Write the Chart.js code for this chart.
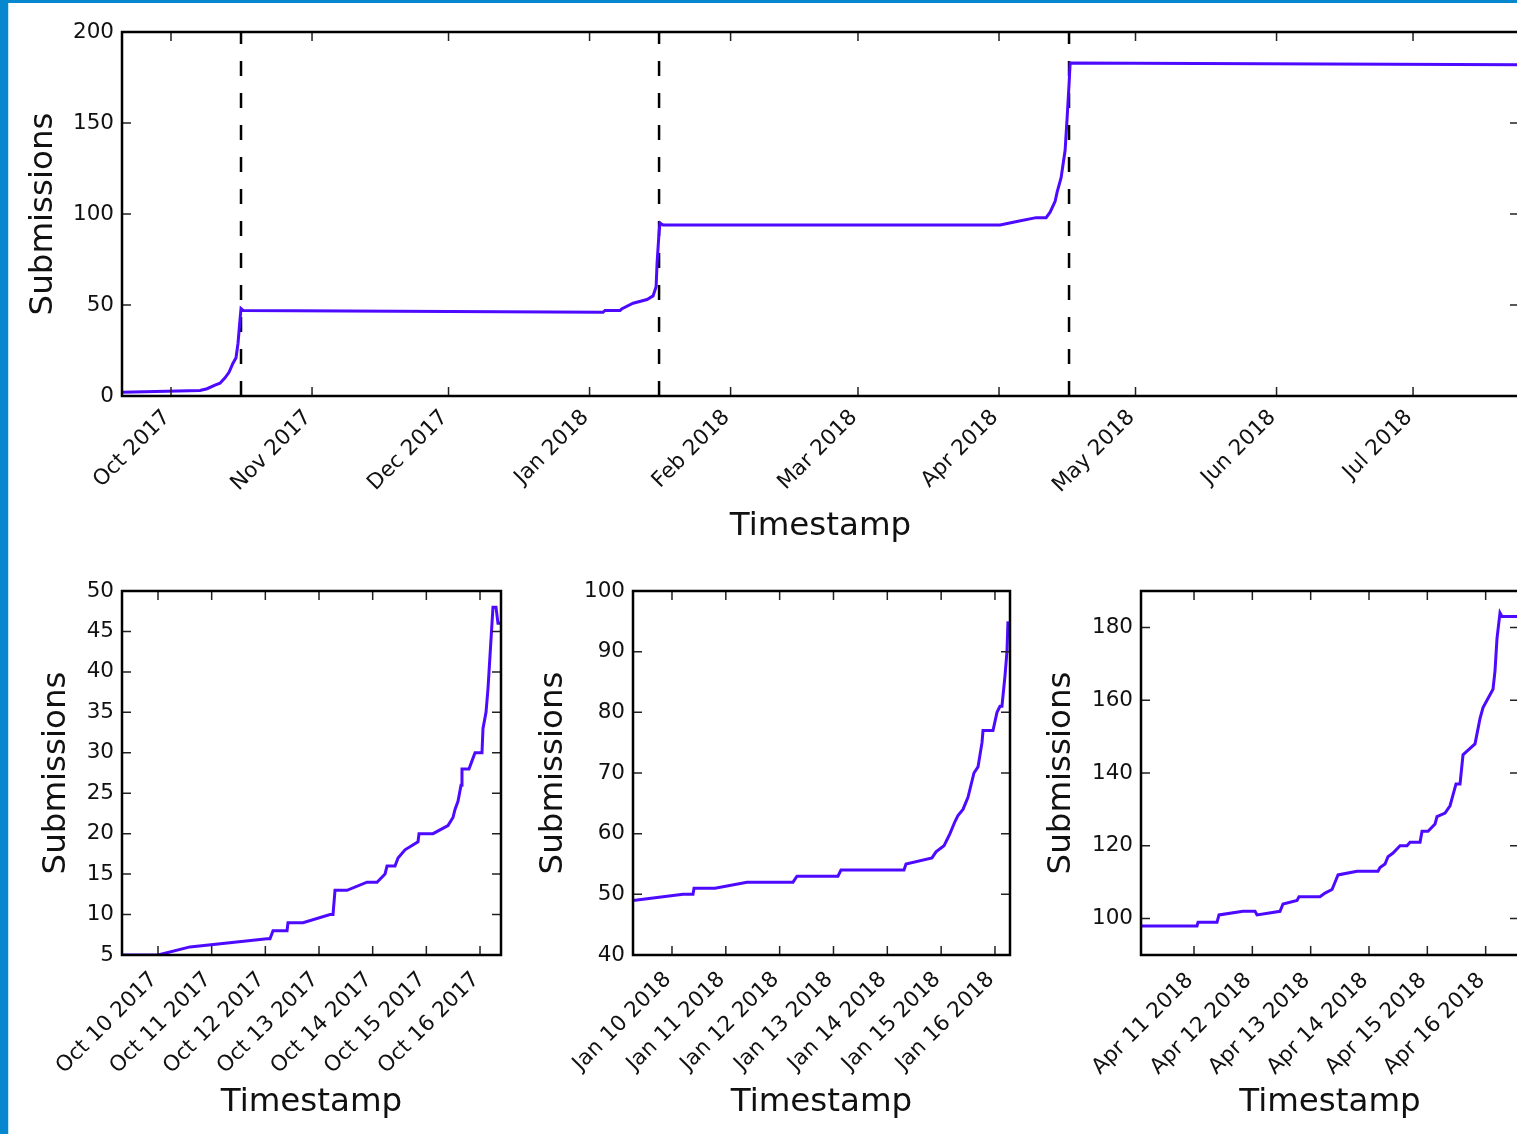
<!DOCTYPE html>
<html>
<head>
<meta charset="utf-8">
<script src="https://cdn.jsdelivr.net/npm/chart.js@4.4.0/dist/chart.umd.min.js"></script>
<style>
html, body { margin: 0; overflow: hidden; background: #fff; }
body { position: relative; width: 1517px; height: 1134px; }
canvas { position: absolute; }
#edgeLeft { position: absolute; left: 0; top: 0; width: 8px; height: 1134px; background: #0787cd; border-right: 1px solid #bfe3f7; z-index: 5; }
#edgeTop { position: absolute; left: 0; top: 0; width: 1517px; height: 3px; background: #0787cd; z-index: 5; }
</style>
</head>
<body>
<div id="edgeLeft"></div>
<div id="edgeTop"></div>
<canvas id="overview" width="1545" height="560" style="left:0;top:0"></canvas>
<canvas id="octChart" width="520" height="574" style="left:0;top:560px"></canvas>
<canvas id="janChart" width="500" height="574" style="left:520px;top:560px"></canvas>
<canvas id="aprChart" width="525" height="574" style="left:1020px;top:560px"></canvas>
<script>
// whole period
const overviewTimes = ['2017-09-20 05:30','2017-10-07 09:00','2017-10-08 22:00','2017-10-10 16:00','2017-10-11 18:30',
  '2017-10-12 21:00','2017-10-13 18:00','2017-10-14 15:00','2017-10-15 07:00','2017-10-15 17:30','2017-10-16 04:00',
  '2017-10-16 09:20','2017-10-16 20:00','2018-01-03 23:00','2018-01-04 09:40','2018-01-07 17:00','2018-01-08 03:20',
  '2018-01-10 13:30','2018-01-13 15:20','2018-01-14 23:00','2018-01-15 15:00','2018-01-15 20:10','2018-01-16 06:40',
  '2018-01-16 12:00','2018-01-17 03:50','2018-04-01 05:45','2018-04-05 04:30','2018-04-09 03:40','2018-04-11 08:25',
  '2018-04-12 05:30','2018-04-13 08:00','2018-04-13 18:30','2018-04-14 15:30','2018-04-15 12:40','2018-04-15 23:20',
  '2018-04-16 09:50','2018-04-16 15:10','2018-07-24 07:00']
const overviewCounts = [2,3,4,6,7,10,13,18,21,29,42,48,47,46,47,47,48,51,53,55,60,73,90,95,94,94,96,98,98,101,107,112,120,135,153,172,183,182]
const deadlines = ['2017-10-16 09:20','2018-01-16 06:40','2018-04-16 09:20']
const overviewRange = ['2017-09-20 05:30','2018-07-24 07:00']
const overviewTicks = ['2017-10-01','2017-11-01','2017-12-01','2018-01-01','2018-02-01','2018-03-01','2018-04-01','2018-05-01','2018-06-01','2018-07-01']
const overviewY = [0,50,100,150,200]

// week before the October deadline
const octTimes = ['2017-10-09 07:54','2017-10-10 00:00','2017-10-10 14:18','2017-10-12 00:45','2017-10-12 02:05','2017-10-12 03:26',
  '2017-10-12 09:42','2017-10-12 10:08','2017-10-12 16:51','2017-10-13 04:55','2017-10-13 06:16','2017-10-13 07:09',
  '2017-10-13 12:31','2017-10-13 21:27','2017-10-14 01:56','2017-10-14 05:31','2017-10-14 06:25','2017-10-14 09:59',
  '2017-10-14 11:20','2017-10-14 14:27','2017-10-14 20:16','2017-10-14 20:43','2017-10-15 02:58','2017-10-15 09:40',
  '2017-10-15 11:55','2017-10-15 12:49','2017-10-15 14:09','2017-10-15 15:30','2017-10-15 15:56','2017-10-15 19:04',
  '2017-10-15 20:25','2017-10-15 21:46','2017-10-16 00:53','2017-10-16 01:20','2017-10-16 02:41','2017-10-16 03:35',
  '2017-10-16 04:28','2017-10-16 05:48','2017-10-16 07:09','2017-10-16 08:02','2017-10-16 09:23']
const octCounts = [5,5,6,7,7,8,8,9,9,10,10,13,13,14,14,15,16,16,17,18,19,20,20,21,22,23,24,26,28,28,29,30,30,33,35,38,42,48,48,46,46]
const octRange = ['2017-10-09 07:54','2017-10-16 09:23']
const octTicks = ['2017-10-10','2017-10-11','2017-10-12','2017-10-13','2017-10-14','2017-10-15','2017-10-16']
const octY = [5,10,15,20,25,30,35,40,45,50]

// week before the January deadline
const janTimes = ['2018-01-09 06:37','2018-01-10 04:54','2018-01-10 09:22','2018-01-10 09:49','2018-01-10 19:10','2018-01-11 09:26',
  '2018-01-12 05:57','2018-01-12 07:44','2018-01-13 02:00','2018-01-13 03:20','2018-01-14 07:26','2018-01-14 08:20',
  '2018-01-14 19:55','2018-01-14 21:42','2018-01-15 01:16','2018-01-15 02:36','2018-01-15 03:56','2018-01-15 06:10',
  '2018-01-15 07:30','2018-01-15 09:44','2018-01-15 11:58','2018-01-15 14:38','2018-01-15 16:26','2018-01-15 18:13',
  '2018-01-15 18:40','2018-01-15 23:07','2018-01-16 00:54','2018-01-16 02:14','2018-01-16 03:07','2018-01-16 04:28',
  '2018-01-16 05:21','2018-01-16 05:48']
const janCounts = [49,50,50,51,51,52,52,53,53,54,54,55,56,57,58,59,60,62,63,64,66,70,71,75,77,77,80,81,81,86,90,95]
const janRange = ['2018-01-09 06:37','2018-01-16 06:42']
const janTicks = ['2018-01-10','2018-01-11','2018-01-12','2018-01-13','2018-01-14','2018-01-15','2018-01-16']
const janY = [40,50,60,70,80,90,100]

// week before the April deadline
const aprTimes = ['2018-04-10 02:11','2018-04-11 01:14','2018-04-11 01:39','2018-04-11 09:28','2018-04-11 10:17','2018-04-11 20:10',
  '2018-04-12 01:06','2018-04-12 01:55','2018-04-12 11:23','2018-04-12 12:37','2018-04-12 18:23','2018-04-12 19:12',
  '2018-04-13 03:50','2018-04-13 05:54','2018-04-13 08:47','2018-04-13 10:01','2018-04-13 11:15','2018-04-13 19:04',
  '2018-04-14 03:42','2018-04-14 04:32','2018-04-14 06:35','2018-04-14 07:49','2018-04-14 09:53','2018-04-14 12:46',
  '2018-04-14 15:39','2018-04-14 16:53','2018-04-14 21:00','2018-04-14 21:49','2018-04-15 00:17','2018-04-15 03:10',
  '2018-04-15 03:59','2018-04-15 07:17','2018-04-15 09:20','2018-04-15 10:34','2018-04-15 11:48','2018-04-15 13:27',
  '2018-04-15 14:41','2018-04-15 16:19','2018-04-15 19:37','2018-04-15 21:41','2018-04-15 22:55','2018-04-16 00:33',
  '2018-04-16 03:01','2018-04-16 03:50','2018-04-16 04:40','2018-04-16 05:54','2018-04-16 06:43','2018-04-16 13:43']
const aprCounts = [98,98,99,99,101,102,102,101,102,104,105,106,106,107,108,110,112,113,113,114,115,117,118,120,120,121,121,124,
  124,126,128,129,131,134,137,137,145,146,148,155,158,160,163,168,177,184,183,183]
const aprRange = ['2018-04-10 02:11','2018-04-16 13:43']
const aprTicks = ['2018-04-11','2018-04-12','2018-04-13','2018-04-14','2018-04-15','2018-04-16']
const aprY = [100,120,140,160,180]

const months = ['Jan','Feb','Mar','Apr','May','Jun','Jul','Aug','Sep','Oct','Nov','Dec']
const font = 'DejaVu Sans'
const lineColor = '#4d0aff'
const textColor = '#111'

function toMs(s) {
  let [d, hm] = s.split(' ')
  let [Y, M, D] = d.split('-').map(Number)
  let [h, m] = (hm || '00:00').split(':').map(Number)
  return Date.UTC(Y, M - 1, D, h, m)
}

function monthLabel(v) {
  let d = new Date(v)
  return months[d.getUTCMonth()] + ' ' + d.getUTCFullYear()
}

function dayLabel(v) {
  let d = new Date(v)
  return months[d.getUTCMonth()] + ' ' + d.getUTCDate() + ' ' + d.getUTCFullYear()
}

// box, inward ticks on all four sides, dashed deadline lines
const frameTicks = {
  id: 'frameTicks',
  beforeDatasetsDraw(chart, args, opts) {
    const {ctx, chartArea: a, scales: {x}} = chart
    ctx.save()
    ctx.beginPath()
    ctx.rect(a.left, a.top, a.right - a.left, a.bottom - a.top)
    ctx.clip()
    ctx.strokeStyle = '#000'
    ctx.lineWidth = 2.5
    ctx.setLineDash([15, 17])
    ;(opts.deadlines || []).forEach(d => {
      let px = x.getPixelForValue(toMs(d))
      ctx.beginPath()
      ctx.moveTo(px, a.bottom)
      ctx.lineTo(px, a.top)
      ctx.stroke()
    })
    ctx.restore()
  },
  afterDraw(chart) {
    const {ctx, chartArea: a, scales: {x, y}} = chart
    const len = 9
    ctx.save()
    ctx.strokeStyle = '#222'
    ctx.lineWidth = 1.5
    ctx.beginPath()
    x.ticks.forEach(t => {
      let px = x.getPixelForValue(t.value)
      ctx.moveTo(px, a.bottom); ctx.lineTo(px, a.bottom - len)
      ctx.moveTo(px, a.top); ctx.lineTo(px, a.top + len)
    })
    y.ticks.forEach(t => {
      let py = y.getPixelForValue(t.value)
      ctx.moveTo(a.left, py); ctx.lineTo(a.left + len, py)
      ctx.moveTo(a.right, py); ctx.lineTo(a.right - len, py)
    })
    ctx.stroke()
    ctx.strokeStyle = '#000'
    ctx.lineWidth = 2.5
    ctx.strokeRect(a.left, a.top, a.right - a.left, a.bottom - a.top)
    ctx.restore()
  }
}

function makeChart(id, times, counts, xRange, xTicks, label, yRange, yTicks, g) {
  return new Chart(document.getElementById(id), {
    type: 'line',
    data: {
      datasets: [{
        data: times.map((t, i) => ({x: toMs(t), y: counts[i]})),
        borderColor: lineColor,
        borderWidth: 3,
        pointRadius: 0,
        tension: 0,
        fill: false
      }]
    },
    options: {
      responsive: false,
      animation: false,
      events: [],
      layout: {padding: {left: 0, top: g.top, right: g.right, bottom: 0}},
      plugins: {
        legend: {display: false},
        tooltip: {enabled: false},
        frameTicks: {deadlines: g.deadlines || []}
      },
      scales: {
        x: {
          type: 'linear',
          min: toMs(xRange[0]),
          max: toMs(xRange[1]),
          grid: {display: false, drawTicks: false},
          border: {display: false},
          afterBuildTicks: s => { s.ticks = xTicks.map(t => ({value: toMs(t)})) },
          afterFit: s => {
            s.height = g.xHeight
            s.paddingLeft = 0
            s.paddingRight = 0
          },
          ticks: {
            autoSkip: false, minRotation: 45, maxRotation: 45, padding: g.xPad, labelOffset: -4,
            color: textColor, font: {family: font, size: 21.5},
            callback: v => label(v)
          },
          title: {display: true, text: 'Timestamp', color: textColor, font: {family: font, size: 32.5}, padding: {top: 0, bottom: g.xTitle}}
        },
        y: {
          min: yRange[0],
          max: yRange[1],
          grid: {display: false, drawTicks: false},
          border: {display: false},
          afterBuildTicks: s => { s.ticks = yTicks.map(v => ({value: v})) },
          afterFit: s => { s.width = g.yWidth },
          ticks: {padding: 8, color: textColor, font: {family: font, size: 21.5}, callback: v => String(v)},
          title: {display: true, text: 'Submissions', color: textColor, font: {family: font, size: 32.5}, padding: {top: g.yTitle, bottom: 0}}
        }
      }
    },
    plugins: [frameTicks]
  })
}

makeChart('overview', overviewTimes, overviewCounts, overviewRange, overviewTicks, monthLabel, [0, 200], overviewY,
  {top: 32, right: 26, xHeight: 164, yWidth: 122, xPad: 9, xTitle: 14, yTitle: 24, deadlines: deadlines})
makeChart('octChart', octTimes, octCounts, octRange, octTicks, dayLabel, [5, 50], octY,
  {top: 31, right: 19, xHeight: 179, yWidth: 122, xPad: 12, xTitle: 12, yTitle: 37})
makeChart('janChart', janTimes, janCounts, janRange, janTicks, dayLabel, [40, 100], janY,
  {top: 31, right: 10, xHeight: 179, yWidth: 113, xPad: 12, xTitle: 12, yTitle: 14})
makeChart('aprChart', aprTimes, aprCounts, aprRange, aprTicks, dayLabel, [90, 190], aprY,
  {top: 31, right: 26, xHeight: 179, yWidth: 121, xPad: 13, xTitle: 12, yTitle: 22})
</script>
</body>
</html>
